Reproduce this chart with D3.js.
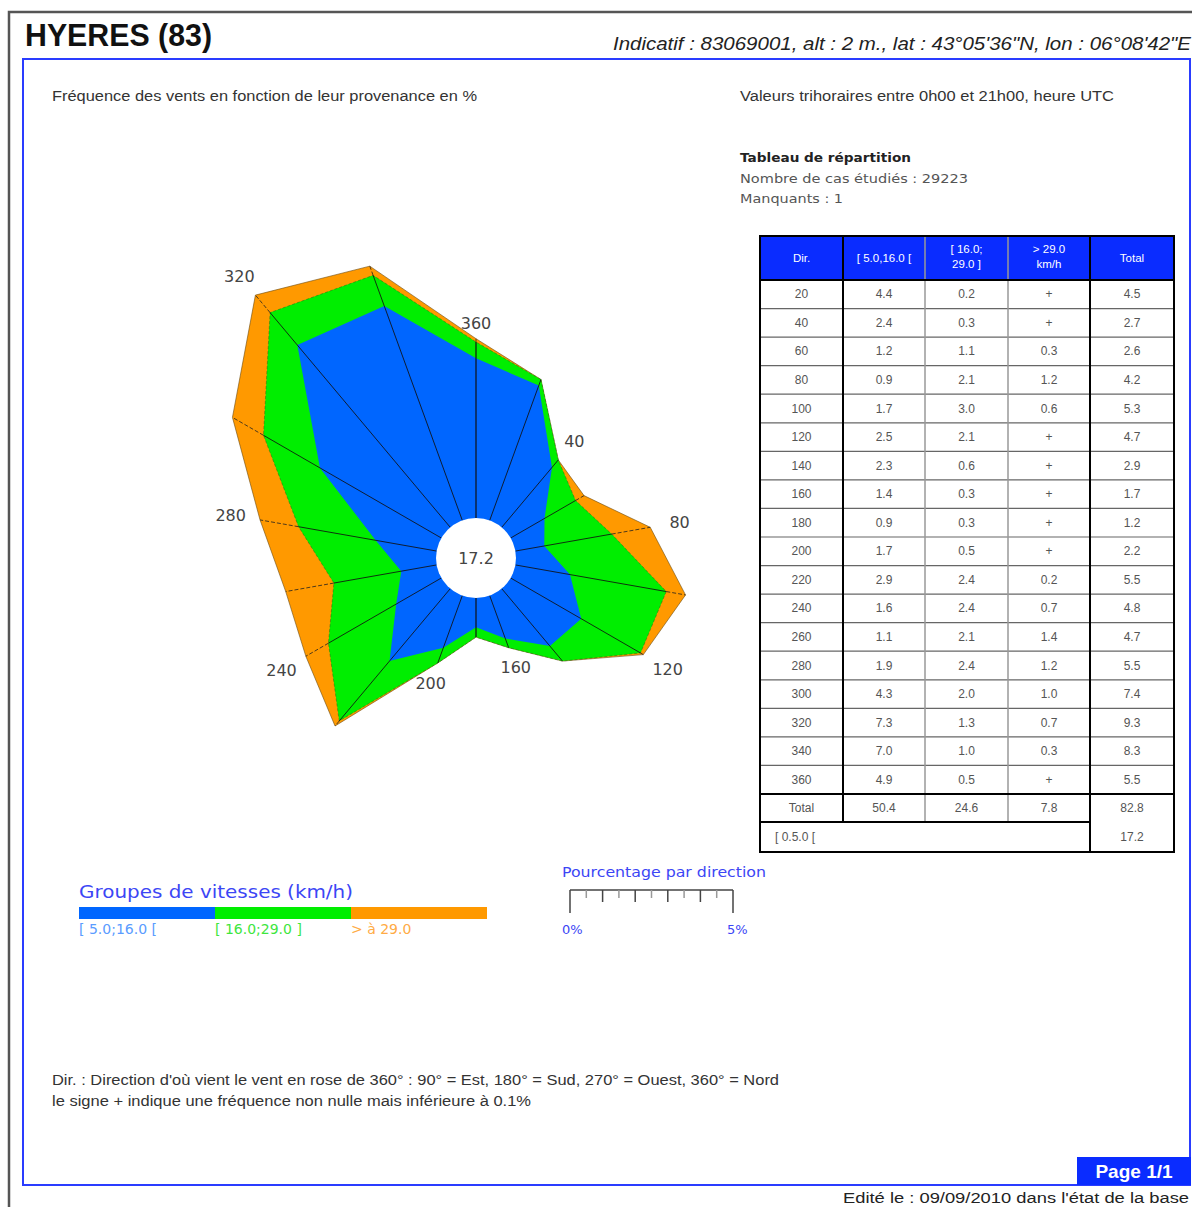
<!DOCTYPE html>
<html><head><meta charset="utf-8">
<script src="https://cdn.jsdelivr.net/npm/d3@7/dist/d3.min.js"></script>
<style>body{margin:0;background:#fff}svg{display:block}</style>
</head><body>
<script>
// ---- Data ----
const directions = [20,40,60,80,100,120,140,160,180,200,220,240,260,280,300,320,340,360];
const low  = [4.4,2.4,1.2,0.9,1.7,2.5,2.3,1.4,0.9,1.7,2.9,1.6,1.1,1.9,4.3,7.3,7.0,4.9];
const mid  = [0.2,0.3,1.1,2.1,3.0,2.1,0.6,0.3,0.3,0.5,2.4,2.4,2.1,2.4,2.0,1.3,1.0,0.5];
const high = ["+","+",0.3,1.2,0.6,"+","+","+","+","+",0.2,0.7,1.4,1.2,1.0,0.7,0.3,"+"];
const total = [4.5,2.7,2.6,4.2,5.3,4.7,2.9,1.7,1.2,2.2,5.5,4.8,4.7,5.5,7.4,9.3,8.3,5.5];
const columnTotals = [50.4, 24.6, 7.8, 82.8];
const calm = 17.2;
const labelDirections = [40,80,120,160,200,240,280,320,360];
const speedGroups = ["[ 5.0;16.0 [", "[ 16.0;29.0 ]", "> à 29.0"];
const headerLabels = [["Dir."],["[ 5.0,16.0 ["],["[ 16.0;","29.0 ]"],["> 29.0","km/h"],["Total"]];
const scaleTicks = [0,0.5,1,1.5,2,2.5,3,3.5,4,4.5,5];

const W = 1192, H = 1207;
const colors = {blue:"#0066ff", green:"#00ee00", orange:"#ff9900"};
const svg = d3.select("body").append("svg").attr("width", W).attr("height", H);

const cond = "'Liberation Sans', Arial, sans-serif";
const dv = "'DejaVu Sans', Verdana, sans-serif";

// ---- Frames ----
svg.append("path").attr("d","M9,1207 L9,12 L1192,12").attr("fill","none").attr("stroke","#555").attr("stroke-width",2.5);
svg.append("rect").attr("x",23).attr("y",59).attr("width",1167).attr("height",1126)
  .attr("fill","none").attr("stroke","#2a3cff").attr("stroke-width",2);

function txt(x,y,s,opts){
  const t = svg.append("text").attr("x",x).attr("y",y).text(s)
    .attr("font-family",opts.family||cond).attr("font-size",opts.size||14)
    .attr("fill",opts.fill||"#333");
  if(opts.weight) t.attr("font-weight",opts.weight);
  if(opts.style) t.attr("font-style",opts.style);
  if(opts.len) t.attr("textLength",opts.len).attr("lengthAdjust","spacingAndGlyphs");
  if(opts.anchor) t.attr("text-anchor",opts.anchor);
  return t;
}

txt(25,46,"HYERES (83)",{size:31,weight:"bold",fill:"#111",len:187});
txt(613,50,"Indicatif : 83069001, alt : 2 m., lat : 43°05'36\"N, lon : 06°08'42\"E",{size:18,style:"italic",fill:"#222",len:578});
txt(52,101,"Fréquence des vents en fonction de leur provenance en %",{size:14,fill:"#333",len:425});
txt(740,101,"Valeurs trihoraires entre 0h00 et 21h00, heure UTC",{size:14,fill:"#333",len:374});

txt(740,162,"Tableau de répartition",{family:dv,size:13,weight:"bold",fill:"#222",len:171});
txt(740,183,"Nombre de cas étudiés : 29223",{family:dv,size:13,fill:"#555",len:228});
txt(740,203,"Manquants : 1",{family:dv,size:13,fill:"#555",len:103});

// ---- Rose ----
const cx = 476, cy = 558, r0 = 40;
const rScale = d3.scaleLinear().domain([0,5]).range([r0, r0+163]);
const numHigh = high.map(v => v === "+" ? 0 : v);
const cumBlue = low;
const cumGreen = low.map((v,i)=> +(v+mid[i]).toFixed(2));
const cumOrange = total.map((v,i)=> Math.max(v, cumGreen[i], +(cumGreen[i]+numHigh[i]).toFixed(2)));
const ang = d => d*Math.PI/180;
const pt = (d,v) => [cx + Math.sin(ang(d))*rScale(v), cy - Math.cos(ang(d))*rScale(v)];
const line = d3.line().curve(d3.curveLinearClosed);

const rose = svg.append("g");
rose.append("path").attr("d", line(directions.map((d,i)=>pt(d,cumOrange[i]))))
  .attr("fill",colors.orange).attr("stroke","#6a4a10").attr("stroke-width",0.6);
rose.append("path").attr("d", line(directions.map((d,i)=>pt(d,cumGreen[i]))))
  .attr("fill",colors.green).attr("stroke","#1a5a1a").attr("stroke-width",0.6).attr("stroke-dasharray","3,2").attr("stroke-opacity",0.7);
rose.append("path").attr("d", line(directions.map((d,i)=>pt(d,cumBlue[i]))))
  .attr("fill",colors.blue);
// spokes
directions.forEach((d,i)=>{
  const a = pt(d,0), b = pt(d,cumGreen[i]), c = pt(d,cumOrange[i]);
  rose.append("line").attr("x1",a[0]).attr("y1",a[1]).attr("x2",b[0]).attr("y2",b[1])
    .attr("stroke","#111").attr("stroke-width",d===360||d===180?1.4:1).attr("stroke-opacity",0.85);
  if(cumOrange[i] > cumGreen[i]){
    rose.append("line").attr("x1",b[0]).attr("y1",b[1]).attr("x2",c[0]).attr("y2",c[1])
      .attr("stroke","#222").attr("stroke-width",1).attr("stroke-dasharray","4,2").attr("stroke-opacity",0.8);
  }
});
rose.append("circle").attr("cx",cx).attr("cy",cy).attr("r",r0).attr("fill","#fff");
txt(cx,cy+6,String(calm),{family:dv,size:16,fill:"#444",anchor:"middle"});
labelDirections.forEach(d=>{
  const i = directions.indexOf(d);
  const off = 16 + 14*Math.abs(Math.sin(ang(d)));
  const rr = rScale(cumOrange[i]) + off;
  const x = cx + Math.sin(ang(d))*rr, y = cy - Math.cos(ang(d))*rr;
  txt(x,y+6,String(d),{family:dv,size:16,fill:"#444",anchor:"middle"});
});

// ---- Table ----
const colEdges = [760,843,925,1008,1090,1174];
const yRow = d3.scaleBand().domain(directions).range([280,794]);
const rh = yRow.bandwidth();
const tbl = svg.append("g");
tbl.append("rect").attr("x",760).attr("y",236).attr("width",414).attr("height",44).attr("fill","#0a2cff");
headerLabels.forEach((lines,j)=>{
  const xm = (colEdges[j]+colEdges[j+1])/2;
  lines.forEach((s,k)=>{
    const y = lines.length===1 ? 262 : 253 + k*15;
    txt(xm,y,s,{size:11.5,fill:"#fff",anchor:"middle"});
  });
});
const fmt = v => v === "+" ? "+" : d3.format(".1f")(v);
directions.forEach((d,i)=>{
  const y0 = yRow(d), ym = y0 + rh/2 + 4;
  const vals = [String(d), fmt(low[i]), fmt(mid[i]), fmt(high[i]), fmt(total[i])];
  vals.forEach((s,j)=> txt((colEdges[j]+colEdges[j+1])/2, ym, s, {size:12,fill:"#555",anchor:"middle"}));
  if(i>0) tbl.append("line").attr("x1",760).attr("x2",1174).attr("y1",y0).attr("y2",y0).attr("stroke","#666").attr("stroke-width",1.2);
});
// total row
const tr0 = 794, tr1 = 822, tr2 = 852;
["Total", ...columnTotals.map(fmt)].forEach((s,j)=> txt((colEdges[j]+colEdges[j+1])/2, tr0+18, s, {size:12,fill:"#555",anchor:"middle"}));
txt(775, tr1+19, "[ 0.5.0 [", {size:12,fill:"#555"});
txt((colEdges[4]+colEdges[5])/2, tr1+19, fmt(calm), {size:12,fill:"#555",anchor:"middle"});
// grid lines
[925,1008].forEach(x=> tbl.append("line").attr("x1",x).attr("x2",x).attr("y1",236).attr("y2",tr1).attr("stroke","#999").attr("stroke-width",1.5));
tbl.append("line").attr("x1",843).attr("x2",843).attr("y1",236).attr("y2",tr1).attr("stroke","#000").attr("stroke-width",2);
tbl.append("line").attr("x1",1090).attr("x2",1090).attr("y1",236).attr("y2",tr2).attr("stroke","#000").attr("stroke-width",2);
tbl.append("line").attr("x1",760).attr("x2",1174).attr("y1",280).attr("y2",280).attr("stroke","#000").attr("stroke-width",2);
tbl.append("line").attr("x1",760).attr("x2",1174).attr("y1",tr0).attr("y2",tr0).attr("stroke","#000").attr("stroke-width",2);
tbl.append("line").attr("x1",760).attr("x2",1090).attr("y1",tr1).attr("y2",tr1).attr("stroke","#000").attr("stroke-width",2);
tbl.append("rect").attr("x",760).attr("y",236).attr("width",414).attr("height",tr2-236).attr("fill","none").attr("stroke","#000").attr("stroke-width",2);

// ---- Legend ----
txt(79,898,"Groupes de vitesses (km/h)",{family:dv,size:17,fill:"#3c46f5",len:274});
const legColors = [colors.blue, colors.green, colors.orange];
const legTextColors = ["#5a9cff","#3ee63e","#ffab45"];
const lx = d3.scaleBand().domain(speedGroups).range([79,487]);
speedGroups.forEach((g,i)=>{
  svg.append("rect").attr("x",lx(g)).attr("y",907).attr("width",lx.bandwidth()).attr("height",12).attr("fill",legColors[i]);
  txt(lx(g),934,g,{family:dv,size:14,fill:legTextColors[i]});
});
// scale
txt(562,877,"Pourcentage par direction",{family:dv,size:14,fill:"#3c46f5",len:204});
const sx = d3.scaleLinear().domain([0,5]).range([570, 570 + rScale(5)-rScale(0)]);
svg.append("line").attr("x1",sx(0)).attr("x2",sx(5)).attr("y1",890).attr("y2",890).attr("stroke","#444").attr("stroke-width",1.5);
scaleTicks.forEach((t,k)=>{
  const end = (t===0||t===5);
  const len = end ? 23 : (k%2===0 ? 12 : 8);
  svg.append("line").attr("x1",sx(t)).attr("x2",sx(t)).attr("y1",890).attr("y2",890+len)
    .attr("stroke", end||k%2===0 ? "#444" : "#999").attr("stroke-width",1.5);
});
txt(562,934,"0%",{family:dv,size:13,fill:"#3c46f5"});
txt(727,934,"5%",{family:dv,size:13,fill:"#3c46f5"});

// ---- Notes ----
txt(52,1085,"Dir. : Direction d'où vient le vent en rose de 360° : 90° = Est, 180° = Sud, 270° = Ouest, 360° = Nord",{size:14,fill:"#333",len:727});
txt(52,1106,"le signe + indique une fréquence non nulle mais inférieure à 0.1%",{size:14,fill:"#333",len:479});

// ---- Page box ----
svg.append("rect").attr("x",1077).attr("y",1157).attr("width",114).attr("height",28).attr("fill","#0a2cff");
txt(1134,1178,"Page 1/1",{size:19,weight:"bold",fill:"#fff",anchor:"middle"});
txt(843,1203,"Edité le : 09/09/2010 dans l'état de la base",{size:14,fill:"#222",len:346});
</script>
</body></html>
